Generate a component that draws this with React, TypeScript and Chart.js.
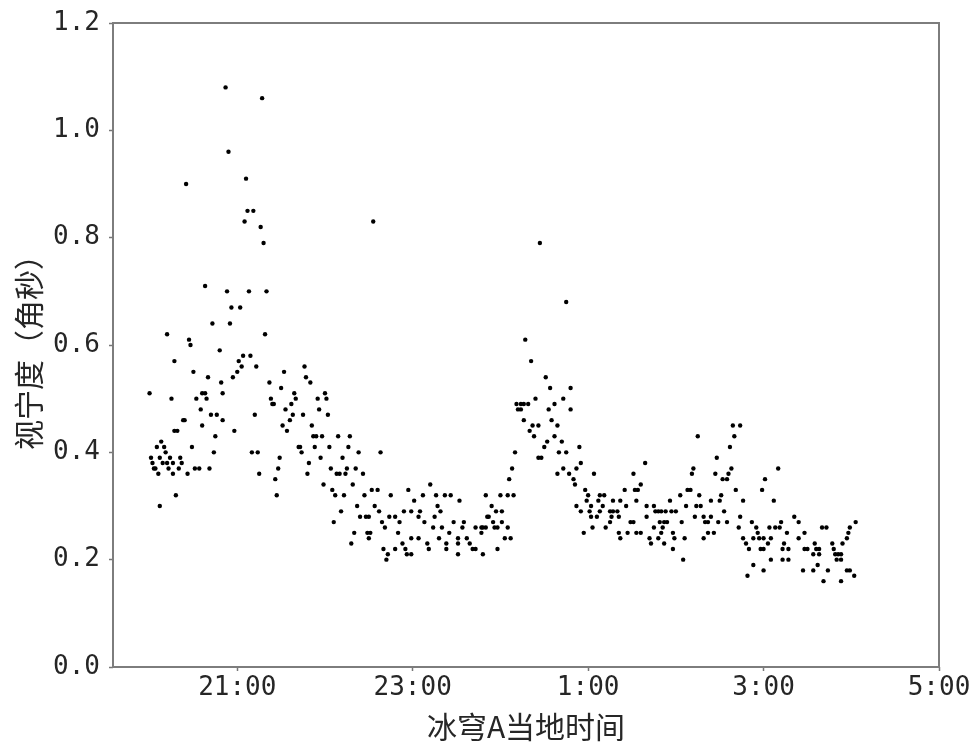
import React, { useEffect, useRef } from 'react';
import { Chart, registerables } from 'chart.js';
Chart.register(...registerables);

// Observation time (local time at Dome A) and seeing (arcsec)
const times: string[] = [
  '20:00','20:01','20:02','20:03','20:04','20:05','20:06','20:07','20:07','20:08',
  '20:09','20:10','20:11','20:12','20:12','20:13','20:14','20:15','20:16','20:16',
  '20:17','20:17','20:18','20:19','20:20','20:21','20:22','20:23','20:24','20:25',
  '20:26','20:27','20:28','20:29','20:30','20:31','20:32','20:34','20:35','20:36',
  '20:36','20:38','20:38','20:39','20:40','20:41','20:42','20:43','20:44','20:45',
  '20:46','20:48','20:49','20:50','20:50','20:52','20:53','20:54','20:55','20:56',
  '20:57','20:58',
  '21:00','21:01','21:02','21:03','21:04','21:05','21:06','21:07','21:08','21:09',
  '21:10','21:11','21:12','21:13','21:14','21:15','21:16','21:17','21:18','21:19',
  '21:20','21:22','21:23','21:24','21:25','21:26','21:27','21:28','21:29','21:30',
  '21:31','21:32','21:33','21:34','21:36','21:37','21:38','21:39','21:40','21:42',
  '21:43','21:44','21:45','21:46','21:47','21:48','21:49','21:50','21:51','21:52',
  '21:53','21:54','21:55','21:56','21:57','21:58','21:59',
  '22:00','22:01','22:02','22:03','22:04','22:05','22:06','22:07','22:08','22:09',
  '22:10','22:11','22:12','22:13','22:14','22:15','22:16','22:17','22:18','22:19',
  '22:20','22:21','22:22','22:23','22:24','22:26','22:27','22:28','22:29','22:30',
  '22:30','22:31','22:32','22:33','22:34','22:36','22:37','22:38','22:39','22:40',
  '22:41','22:42','22:43','22:44','22:45','22:48','22:48','22:50','22:51','22:53',
  '22:54','22:55','22:56','22:57','22:59','22:59','22:59',
  '23:01','23:04','23:04','23:05','23:07','23:08','23:10','23:11','23:12','23:14',
  '23:15','23:16','23:17','23:18','23:19','23:20','23:22','23:23','23:23','23:25',
  '23:26','23:28','23:31','23:31','23:31','23:32','23:34','23:35','23:37','23:39',
  '23:41','23:43','23:43','23:47','23:47','23:48','23:48','23:50','23:50','23:51',
  '23:52','23:54','23:55','23:56','23:57','23:58','23:58',
  '0:00','0:01','0:01','0:03','0:05','0:05','0:06','0:07','0:08','0:09',
  '0:10','0:11','0:12','0:14','0:14','0:16','0:16','0:17','0:19','0:20',
  '0:21','0:22','0:23','0:24','0:26','0:26','0:27','0:28','0:30','0:31',
  '0:32','0:33','0:34','0:35','0:37','0:37','0:39','0:39','0:40','0:42',
  '0:43','0:43','0:45','0:45','0:47','0:48','0:48','0:50','0:51','0:52',
  '0:52','0:54','0:55','0:55','0:57','0:58','0:59',
  '1:00','1:01','1:02','1:02','1:03','1:04','1:06','1:07','1:08','1:08',
  '1:10','1:11','1:12','1:15','1:15','1:16','1:17','1:17','1:20','1:21',
  '1:21','1:22','1:22','1:25','1:26','1:27','1:29','1:31','1:31','1:32',
  '1:33','1:33','1:34','1:36','1:36','1:39','1:40','1:40','1:42','1:43',
  '1:45','1:45','1:46','1:48','1:48','1:49','1:50','1:50','1:51','1:52',
  '1:52','1:53','1:54','1:56','1:57','1:58','1:58','1:59',
  '2:00','2:03','2:04','2:05','2:06','2:07','2:08','2:10','2:11','2:12',
  '2:13','2:14','2:15','2:16','2:17','2:19','2:19','2:20','2:22','2:22',
  '2:24','2:24','2:26','2:27','2:28','2:29','2:30','2:31','2:32','2:33',
  '2:35','2:35','2:36','2:37','2:38','2:39','2:40','2:41','2:43','2:44',
  '2:44','2:46','2:46','2:48','2:49','2:50','2:52','2:53','2:53','2:55',
  '2:56','2:57','2:58','2:59',
  '3:00','3:00','3:00','3:01','3:03','3:04','3:05','3:05','3:07','3:08',
  '3:10','3:11','3:12','3:13','3:13','3:14','3:16','3:17','3:17','3:21',
  '3:24','3:24','3:27','3:28','3:28','3:30','3:34','3:34','3:35','3:36',
  '3:37','3:38','3:38','3:40','3:41','3:43','3:44','3:47','3:48','3:49',
  '3:50','3:51','3:53','3:53','3:53','3:54','3:57','3:57','3:58','3:59',
  '3:59','4:02','4:03',
];

const seeing: number[] = [
  0.51,0.39,0.38,0.37,0.37,0.41,0.36,0.30,0.39,0.42,
  0.38,0.41,0.40,0.62,0.38,0.37,0.39,0.50,0.36,0.38,
  0.57,0.44,0.32,0.44,0.37,0.39,0.38,0.46,0.46,0.90,
  0.36,0.61,0.60,0.41,0.55,0.37,0.50,0.37,0.48,0.51,
  0.45,0.51,0.71,0.50,0.54,0.37,0.47,0.64,0.40,0.43,
  0.47,0.59,0.53,0.51,0.46,1.08,0.70,0.96,0.64,0.67,
  0.54,0.44,
  0.55,0.57,0.67,0.56,0.58,0.83,0.91,0.85,0.70,0.58,
  0.40,0.85,0.47,0.56,0.40,0.36,0.82,1.06,0.79,0.62,
  0.70,0.53,0.50,0.49,0.49,0.35,0.32,0.37,0.39,0.52,
  0.45,0.55,0.48,0.44,0.46,0.49,0.47,0.51,0.50,0.41,
  0.41,0.40,0.47,0.56,0.54,0.36,0.38,0.53,0.45,0.43,
  0.41,0.43,0.50,0.48,0.39,0.43,0.34,
  0.51,0.50,0.47,0.41,0.37,0.33,0.27,0.32,0.36,0.43,
  0.36,0.29,0.39,0.32,0.36,0.37,0.41,0.43,0.23,0.34,
  0.25,0.37,0.30,0.40,0.28,0.36,0.32,0.28,0.25,0.28,
  0.24,0.25,0.33,0.83,0.30,0.33,0.29,0.40,0.27,0.22,
  0.26,0.20,0.21,0.28,0.32,0.28,0.22,0.25,0.27,0.23,
  0.29,0.22,0.21,0.33,0.29,0.24,0.21,
  0.31,0.28,0.24,0.29,0.32,0.27,0.23,0.22,0.34,0.26,
  0.28,0.32,0.30,0.24,0.29,0.26,0.32,0.22,0.23,0.25,
  0.32,0.27,0.23,0.21,0.24,0.31,0.26,0.27,0.24,0.23,
  0.22,0.26,0.22,0.25,0.26,0.26,0.21,0.32,0.26,0.28,
  0.28,0.30,0.27,0.26,0.29,0.26,0.22,
  0.32,0.29,0.27,0.24,0.32,0.26,0.35,0.24,0.37,0.32,
  0.40,0.49,0.48,0.49,0.48,0.49,0.46,0.61,0.49,0.44,
  0.57,0.45,0.43,0.50,0.45,0.39,0.79,0.39,0.41,0.54,
  0.42,0.48,0.52,0.46,0.49,0.43,0.45,0.36,0.40,0.42,
  0.50,0.37,0.68,0.40,0.36,0.52,0.48,0.35,0.34,0.37,
  0.30,0.41,0.38,0.29,0.25,0.33,0.31,
  0.32,0.29,0.28,0.30,0.26,0.36,0.28,0.31,0.32,0.29,
  0.30,0.32,0.26,0.29,0.27,0.28,0.31,0.29,0.29,0.28,
  0.25,0.31,0.24,0.33,0.30,0.25,0.27,0.36,0.27,0.33,
  0.31,0.25,0.33,0.34,0.25,0.38,0.30,0.28,0.24,0.23,
  0.30,0.26,0.29,0.29,0.24,0.27,0.29,0.25,0.26,0.27,
  0.23,0.29,0.27,0.31,0.29,0.22,0.25,0.24,
  0.29,0.32,0.27,0.20,0.24,0.30,0.33,0.33,0.36,0.37,
  0.28,0.30,0.43,0.32,0.30,0.28,0.24,0.27,0.27,0.25,
  0.31,0.28,0.25,0.36,0.39,0.27,0.31,0.32,0.35,0.29,
  0.35,0.27,0.36,0.41,0.37,0.45,0.43,0.33,0.26,0.45,
  0.28,0.31,0.24,0.23,0.17,0.22,0.27,0.19,0.24,0.26,
  0.25,0.24,0.22,0.33,
  0.22,0.18,0.24,0.35,0.23,0.26,0.24,0.20,0.31,0.26,
  0.37,0.26,0.27,0.22,0.20,0.23,0.25,0.22,0.20,0.28,
  0.27,0.24,0.18,0.25,0.22,0.22,0.21,0.18,0.23,0.22,
  0.19,0.22,0.21,0.26,0.16,0.26,0.18,0.23,0.22,0.21,
  0.20,0.21,0.21,0.20,0.16,0.23,0.18,0.24,0.25,0.26,
  0.18,0.17,0.27,
];

const xTickLabels: string[] = ['21:00', '23:00', '1:00', '3:00', '5:00'];
const yTickValues: number[] = [0, 0.2, 0.4, 0.6, 0.8, 1.0, 1.2];
const xAxisStart = '19:35';
const xAxisEnd = '5:00';
const xTitle = '冰穹A当地时间';
const yTitle = '视宁度（角秒）';

// hours elapsed since 19:00 (the night runs past midnight)
function toHours(t: string): number {
  const [h, m] = t.split(':').map(Number);
  return (h >= 12 ? h - 19 : h + 5) + m / 60;
}

const framePlugin = {
  id: 'frame',
  beforeDatasetsDraw(chart: any) {
    const { ctx, chartArea: a } = chart;
    ctx.save();
    ctx.strokeStyle = '#7d7d7d';
    ctx.lineWidth = 2;
    ctx.strokeRect(a.left, a.top, a.right - a.left, a.bottom - a.top);
    ctx.restore();
  },
};

export default function App() {
  const ref = useRef<HTMLCanvasElement | null>(null);

  useEffect(() => {
    if (!ref.current) return;
    const points = times.map((t, i) => ({ x: toHours(t), y: seeing[i] }));
    const tickFont = { family: "'DejaVu Sans Mono', monospace", size: 26 };
    const titleFont = { family: "'Noto Sans CJK SC', sans-serif", size: 30 };
    const chart = new Chart(ref.current, {
      type: 'scatter',
      data: {
        datasets: [
          {
            data: points,
            pointRadius: 2.2,
            pointBackgroundColor: '#000',
            pointBorderWidth: 0,
          },
        ],
      },
      plugins: [framePlugin],
      options: {
        responsive: false,
        animation: false,
        layout: { padding: { top: 23, right: 36, left: 0, bottom: 0 } },
        plugins: { legend: { display: false }, tooltip: { enabled: false } },
        scales: {
          x: {
            type: 'linear',
            min: toHours(xAxisStart),
            max: toHours(xAxisEnd),
            afterFit: (s: any) => {
              s.height = 80;
              s.paddingLeft = 0;
              s.paddingRight = 0;
            },
            afterBuildTicks: (s: any) => {
              s.ticks = xTickLabels.map((l) => ({ value: toHours(l) }));
            },
            ticks: {
              autoSkip: false,
              maxRotation: 0,
              padding: 2,
              color: '#262626',
              font: tickFont,
              callback: (v: any) => {
                const i = xTickLabels.findIndex((l) => Math.abs(toHours(l) - v) < 1e-6);
                return i >= 0 ? xTickLabels[i] : '';
              },
            },
            grid: { display: true, drawOnChartArea: false, drawTicks: true, tickLength: 4, tickColor: '#777', tickWidth: 1.5 },
            border: { display: false },
            title: { display: true, text: xTitle, color: '#262626', font: titleFont, padding: { top: 0, bottom: 2 } },
          },
          y: {
            type: 'linear',
            min: 0,
            max: 1.2,
            afterFit: (s: any) => {
              s.width = 113;
              s.paddingTop = 0;
              s.paddingBottom = 0;
            },
            afterBuildTicks: (s: any) => {
              s.ticks = yTickValues.map((v) => ({ value: v }));
            },
            ticks: {
              padding: 9,
              color: '#262626',
              font: tickFont,
              callback: (v: any) => Number(v).toFixed(1),
            },
            grid: { display: true, drawOnChartArea: false, drawTicks: true, tickLength: 4, tickColor: '#777', tickWidth: 1.5 },
            border: { display: false },
            title: { display: true, text: yTitle, color: '#262626', font: titleFont, padding: { top: 11, bottom: 0 } },
          },
        },
      },
    } as any);
    return () => chart.destroy();
  }, []);

  return (
    <div style={{ position: 'absolute', left: 0, top: 0, width: 975, height: 747, background: '#fff' }}>
      <canvas ref={ref} width={975} height={747} style={{ display: 'block' }} />
    </div>
  );
}
